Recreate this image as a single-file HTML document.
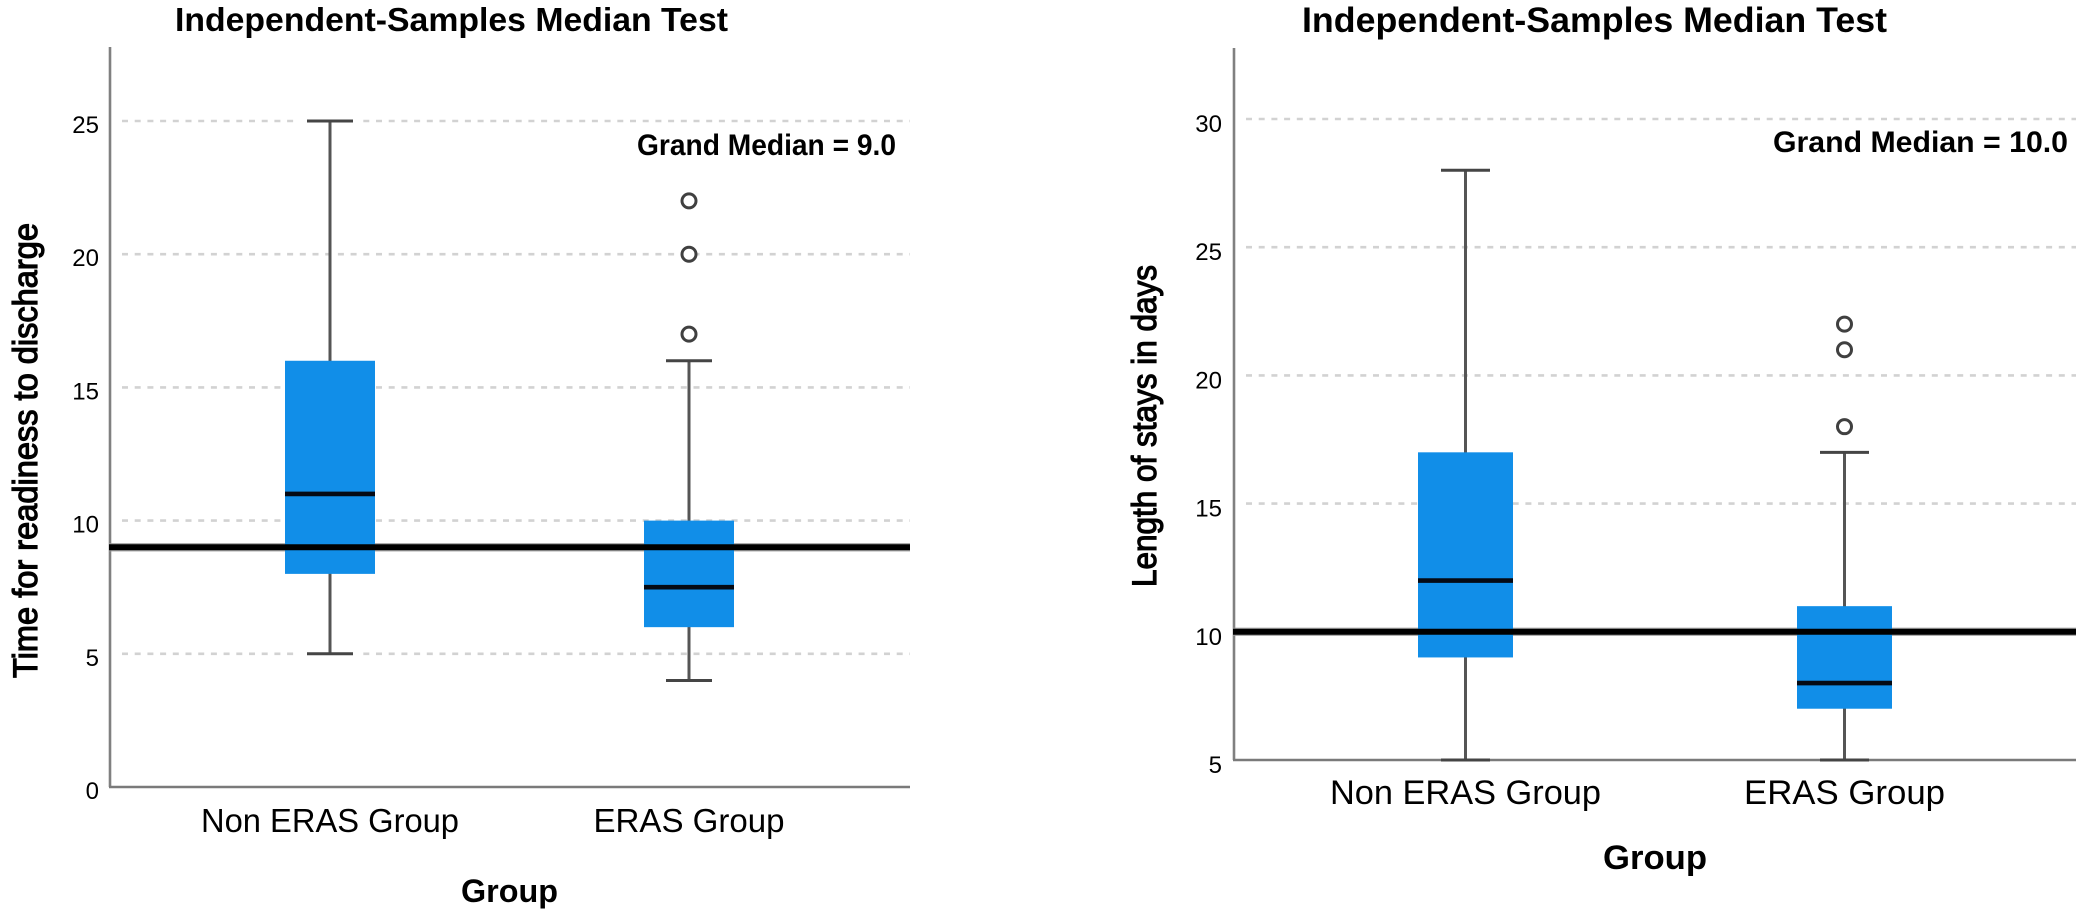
<!DOCTYPE html>
<html>
<head>
<meta charset="utf-8">
<title>Independent-Samples Median Test</title>
<style>
html,body{margin:0;padding:0;background:#fff;}
svg{display:block;}
text{font-family:"Liberation Sans",sans-serif;fill:#000;}
</style>
</head>
<body>
<svg id="figure" width="2091" height="919" viewBox="0 0 2091 919" xmlns="http://www.w3.org/2000/svg">
  <rect width="2091" height="919" fill="#ffffff"/>
  <g id="left-chart">
    <g id="left-plot"></g>
    <text x="175" y="31" font-size="33.5" font-weight="bold" textLength="553" lengthAdjust="spacingAndGlyphs">Independent-Samples Median Test</text>
    <text transform="translate(37,678) rotate(-90)" font-size="34" stroke="#000" stroke-width="1.2" textLength="455" lengthAdjust="spacingAndGlyphs">Time for readiness to discharge</text>
    <text x="461" y="902" font-size="32" font-weight="bold" textLength="97" lengthAdjust="spacingAndGlyphs">Group</text>
    <text x="637" y="155" font-size="29.5" font-weight="bold" textLength="259" lengthAdjust="spacingAndGlyphs">Grand Median = 9.0</text>
  </g>
  <g id="right-chart">
    <g id="right-plot"></g>
    <text x="1302" y="32" font-size="35" font-weight="bold" textLength="585" lengthAdjust="spacingAndGlyphs">Independent-Samples Median Test</text>
    <text transform="translate(1156,587) rotate(-90)" font-size="34" stroke="#000" stroke-width="1.2" textLength="322" lengthAdjust="spacingAndGlyphs">Length of stays in days</text>
    <text x="1603" y="869" font-size="34" font-weight="bold" textLength="104" lengthAdjust="spacingAndGlyphs">Group</text>
    <text x="1773" y="152" font-size="30" font-weight="bold" textLength="295" lengthAdjust="spacingAndGlyphs">Grand Median = 10.0</text>
  </g>
</svg>
<script>
const categories = ['Non ERAS Group', 'ERAS Group'];

const leftTicks = [0, 5, 10, 15, 20, 25];
const leftGridValues = [5, 10, 15, 20, 25];
const leftWhiskerLow = [5, 4];
const leftQ1 = [8, 6];
const leftMedian = [11, 7.5];
const leftQ3 = [16, 10];
const leftWhiskerHigh = [25, 16];
const leftOutliers = [[], [17, 20, 22]];
const leftGrandMedian = [9];

const rightTicks = [5, 10, 15, 20, 25, 30];
const rightGridValues = [10, 15, 20, 25, 30];
const rightWhiskerLow = [5, 5];
const rightQ1 = [9, 7];
const rightMedian = [12, 8];
const rightQ3 = [17, 11];
const rightWhiskerHigh = [28, 17];
const rightOutliers = [[], [18, 21, 22]];
const rightGrandMedian = [10];

const NS = 'http://www.w3.org/2000/svg';

function make(parent, tag, attrs) {
  const el = document.createElementNS(NS, tag);
  for (const key in attrs) el.setAttribute(key, attrs[key]);
  parent.appendChild(el);
  return el;
}

function drawPanel(root, o) {
  const y = v => o.yBase - (v - o.yMin) * o.pxPerUnit;
  const x = i => o.xFirst + i * o.xStep;

  o.gridValues.forEach(v => {
    const grid = make(root, 'line', {x1: o.left + 12, x2: o.right, y1: y(v), y2: y(v), stroke: '#d2d2d2', 'stroke-width': 2.6, 'stroke-dasharray': '6 6.7'});
    
    
  });

  categories.forEach((name, i) => {
    [o.whiskerLow[i], o.whiskerHigh[i]].forEach(v => {
      const halo = make(root, 'rect', {x: x(i) - o.capHalf - 8, y: y(v) - 3, width: 2 * o.capHalf + 16, height: 6, fill: '#ffffff'});
      
      
    });
  });

  const yAxis = make(root, 'line', {x1: o.left, x2: o.left, y1: o.top, y2: o.yBase, stroke: '#808080', 'stroke-width': 2.6});
  
  

  const xAxis = make(root, 'line', {x1: o.left - 1, x2: o.right, y1: o.yBase, y2: o.yBase, stroke: '#7a7a7a', 'stroke-width': 2.4});
  
  

  const fringe = make(root, 'line', {x1: o.left - 1, x2: o.right, y1: y(o.grand[0]), y2: y(o.grand[0]), stroke: '#9a9a9a', 'stroke-width': 8.4, 'stroke-opacity': 0.8});
  
  

  o.ticks.forEach(v => {
    const label = make(root, 'text', {x: o.left - o.tickGap, y: y(v) + o.tickDy, 'font-size': 24, 'text-anchor': 'end'});
    label.textContent = String(v);
    
    
  });

  categories.forEach((name, i) => {
    const cx = x(i);
    const label = make(root, 'text', {x: cx, y: o.labelY, 'font-size': o.labelSize, 'text-anchor': 'middle', textLength: o.labelWidths[i], lengthAdjust: 'spacingAndGlyphs'});
    label.textContent = name;
    
    

    const whisker = make(root, 'line', {x1: cx, x2: cx, y1: y(o.whiskerHigh[i]), y2: y(o.whiskerLow[i]), stroke: '#555555', 'stroke-width': 3});
    
    

    const capHigh = make(root, 'line', {x1: cx - o.capHalf, x2: cx + o.capHalf, y1: y(o.whiskerHigh[i]), y2: y(o.whiskerHigh[i]), stroke: '#454545', 'stroke-width': 3});
    
    

    const capLow = make(root, 'line', {x1: cx - o.capHalf, x2: cx + o.capHalf, y1: y(o.whiskerLow[i]), y2: y(o.whiskerLow[i]), stroke: '#454545', 'stroke-width': 3});
    
    

    const box = make(root, 'rect', {x: cx - o.boxHalf, y: y(o.q3[i]), width: 2 * o.boxHalf, height: y(o.q1[i]) - y(o.q3[i]), fill: '#118ee8'});
    
    

    const median = make(root, 'line', {x1: cx - o.boxHalf, x2: cx + o.boxHalf, y1: y(o.median[i]), y2: y(o.median[i]), stroke: '#050a14', 'stroke-width': 4.6});
    
    

    o.outliers[i].forEach(v => {
      const dot = make(root, 'circle', {cx: cx, cy: y(v), r: 7, fill: '#ffffff', stroke: '#404040', 'stroke-width': 3});
      
      
    });
  });

  const grand = make(root, 'line', {x1: o.left - 1, x2: o.right, y1: y(o.grand[0]), y2: y(o.grand[0]), stroke: '#000000', 'stroke-width': 6});
  
  
}

drawPanel(document.getElementById('left-plot'), {
  left: 110, right: 910, top: 47, yBase: 787, yMin: 0, pxPerUnit: 26.64,
  xFirst: 330, xStep: 359, boxHalf: 45, capHalf: 23,
  tickGap: 11, tickDy: 12, labelY: 832, labelSize: 33, labelWidths: [258, 191],
  ticks: leftTicks, gridValues: leftGridValues,
  whiskerLow: leftWhiskerLow, q1: leftQ1, median: leftMedian, q3: leftQ3, whiskerHigh: leftWhiskerHigh,
  outliers: leftOutliers, grand: leftGrandMedian
});

drawPanel(document.getElementById('right-plot'), {
  left: 1234, right: 2076, top: 48, yBase: 760, yMin: 5, pxPerUnit: 25.64,
  xFirst: 1465.5, xStep: 379, boxHalf: 47.5, capHalf: 24.5,
  tickGap: 12, tickDy: 13, labelY: 804, labelSize: 34, labelWidths: [271, 201],
  ticks: rightTicks, gridValues: rightGridValues,
  whiskerLow: rightWhiskerLow, q1: rightQ1, median: rightMedian, q3: rightQ3, whiskerHigh: rightWhiskerHigh,
  outliers: rightOutliers, grand: rightGrandMedian
});
</script>
</body>
</html>
